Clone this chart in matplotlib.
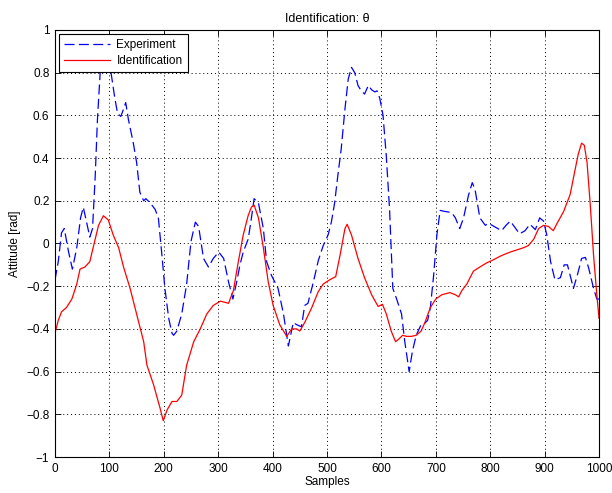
import matplotlib.pyplot as plt
from matplotlib.ticker import FixedLocator, FixedFormatter

plt.rcParams['font.family'] = ['Liberation Sans', 'DejaVu Sans']

# measured attitude (samples, rad)
exp_x = [0, 6, 12, 17, 25, 32, 40, 47, 52, 58, 64, 69, 74, 78, 83, 93, 103, 110,
         115, 121, 126, 130, 135, 144, 150, 156, 163, 167, 175, 184, 190, 196, 202,
         209, 215, 218, 224, 233, 242, 250, 258, 264, 273, 282, 291, 301, 310, 319,
         327, 334, 340, 346, 355, 360, 366, 374, 383, 389, 398, 410, 420, 429, 438,
         444, 453, 459, 465, 475, 484, 493, 502, 508, 514, 520, 526, 533, 539, 545,
         551, 557, 563, 569, 576, 582, 588, 592, 597, 603, 609, 615, 621, 628, 637,
         643, 651, 657, 664, 673, 677, 685, 690, 696, 702, 708, 717, 729, 736, 744,
         751, 760, 767, 772, 781, 791, 797, 807, 821, 829, 837, 844, 854, 864, 873,
         883, 891, 898, 904, 911, 919, 929, 936, 942, 948, 953, 960, 968, 975, 981,
         990, 996, 1000]
exp_y = [-0.17, -0.085, 0.05, 0.07, -0.04, -0.12, -0.02, 0.12, 0.17, 0.10, 0.03,
         0.07, 0.32, 0.58, 0.80, 0.88, 0.80, 0.68, 0.61, 0.595, 0.63, 0.66, 0.58,
         0.47, 0.38, 0.24, 0.20, 0.21, 0.19, 0.16, 0.12, -0.04, -0.21, -0.35, -0.42,
         -0.43, -0.41, -0.33, -0.19, 0.01, 0.10, 0.08, -0.07, -0.11, -0.07, -0.04,
         -0.07, -0.18, -0.26, -0.18, -0.10, -0.04, 0.02, 0.10, 0.21, 0.19, 0.07,
         -0.085, -0.15, -0.21, -0.33, -0.48, -0.37, -0.38, -0.39, -0.29, -0.28,
         -0.18, -0.08, -0.01, 0.04, 0.10, 0.19, 0.32, 0.44, 0.63, 0.77, 0.825, 0.80,
         0.74, 0.715, 0.70, 0.74, 0.72, 0.71, 0.715, 0.68, 0.60, 0.41, 0.16, -0.21,
         -0.26, -0.33, -0.46, -0.60, -0.505, -0.43, -0.38, -0.38, -0.36, -0.30,
         -0.15, 0.04, 0.155, 0.15, 0.145, 0.12, 0.07, 0.12, 0.225, 0.285, 0.255,
         0.12, 0.085, 0.095, 0.08, 0.06, 0.085, 0.105, 0.08, 0.045, 0.06, 0.09,
         0.065, 0.12, 0.105, 0.04, -0.085, -0.17, -0.16, -0.10, -0.10, -0.16, -0.21,
         -0.15, -0.07, -0.065, -0.115, -0.21, -0.26, -0.26]

# identified model output (samples, rad)
idf_x = [0, 6, 12, 21, 31, 40, 46, 55, 64, 71, 80, 89, 98, 107, 117, 126, 138,
         150, 163, 169, 181, 193, 199, 206, 215, 224, 233, 242, 255, 267, 279, 291,
         304, 319, 328, 337, 346, 355, 361, 366, 374, 383, 392, 401, 413, 426, 435,
         444, 450, 459, 472, 484, 493, 505, 516, 524, 533, 537, 545, 557, 569, 582,
         594, 602, 609, 618, 626, 631, 639, 646, 655, 664, 673, 680, 690, 700, 711,
         726, 736, 742, 748, 757, 769, 781, 794, 803, 818, 827, 837, 849, 861, 870,
         880, 889, 898, 907, 916, 922, 935, 947, 954, 962, 968, 973, 978, 984, 990,
         996, 1000]
idf_y = [-0.42, -0.36, -0.32, -0.30, -0.26, -0.19, -0.12, -0.11, -0.085, -0.01,
         0.085, 0.13, 0.11, 0.04, -0.02, -0.11, -0.21, -0.33, -0.46, -0.57, -0.66,
         -0.77, -0.83, -0.78, -0.74, -0.74, -0.71, -0.57, -0.46, -0.40, -0.33,
         -0.29, -0.27, -0.28, -0.22, -0.085, 0.04, 0.13, 0.17, 0.18, 0.12, -0.02,
         -0.18, -0.29, -0.38, -0.435, -0.40, -0.40, -0.41, -0.37, -0.30, -0.225,
         -0.19, -0.17, -0.155, -0.055, 0.07, 0.09, 0.04, -0.07, -0.16, -0.24,
         -0.295, -0.285, -0.33, -0.41, -0.46, -0.45, -0.43, -0.435, -0.435, -0.43,
         -0.41, -0.37, -0.30, -0.26, -0.24, -0.23, -0.24, -0.25, -0.22, -0.19,
         -0.13, -0.11, -0.09, -0.08, -0.06, -0.05, -0.04, -0.03, -0.02, -0.01,
         0.02, 0.07, 0.085, 0.08, 0.06, 0.09, 0.15, 0.23, 0.32, 0.42, 0.47, 0.46,
         0.38, 0.18, -0.055, -0.24, -0.35]

x_ticks = [0, 100, 200, 300, 400, 500, 600, 700, 800, 900, 1000]
y_ticks = [-1, -0.8, -0.6, -0.4, -0.2, 0, 0.2, 0.4, 0.6, 0.8, 1]
y_tick_labels = ['\u22121', '\u22120.8', '\u22120.6', '\u22120.4', '\u22120.2',
                 '0', '0.2', '0.4', '0.6', '0.8', '1']

fig = plt.figure(figsize=(6.12, 4.93), dpi=100)
ax = fig.add_axes([55 / 612, 1 - 457 / 493, 544 / 612, 427 / 493])

ax.plot(exp_x, exp_y, color='#0000ff', linestyle=(0, (8, 3.5)), linewidth=0.9,
        label='Experiment')
ax.plot(idf_x, idf_y, color='#ff0000', linewidth=0.9, label='Identification')

ax.set_xlim(0, 1000)
ax.set_ylim(-1, 1)
ax.xaxis.set_major_locator(FixedLocator(x_ticks))
ax.yaxis.set_major_locator(FixedLocator(y_ticks))
ax.yaxis.set_major_formatter(FixedFormatter(y_tick_labels))
ax.tick_params(direction='in', top=True, right=True, length=4, labelsize=8.5,
               width=0.6, pad=4)
ax.grid(True, color='black', linestyle=(0, (1, 3)), linewidth=0.7)
for s in ax.spines.values():
    s.set_linewidth(0.8)

ax.set_title('Identification: θ', fontsize=9, pad=6)
ax.set_xlabel('Samples', fontsize=8.5, labelpad=1)
ax.set_ylabel('Attitude [rad]', fontsize=8.5, labelpad=4)

leg = ax.legend(loc='upper left', fontsize=8.5, fancybox=False, framealpha=1,
                edgecolor='black', handlelength=3.9, borderaxespad=0.35,
                borderpad=0.45, labelspacing=0.3, handletextpad=0.5)
leg.get_frame().set_linewidth(0.8)

fig.savefig('out.png', dpi=100)
